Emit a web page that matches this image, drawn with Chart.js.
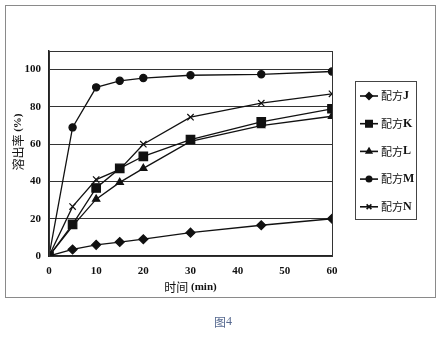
<!DOCTYPE html>
<html>
<head>
<meta charset="utf-8">
<script src="https://cdn.jsdelivr.net/npm/chart.js@4/dist/chart.umd.min.js"></script>
<style>
  html, body { margin: 0; padding: 0; background: #fff; }
  #wrap { width: 438px; height: 344px; }
</style>
</head>
<body>
<div id="wrap"><canvas id="dissolution" width="438" height="344"></canvas></div>
<script>
// sampling times (min)
var times = [0, 5, 10, 15, 20, 30, 45, 60];

// release (%) per formula
var seriesJ = [0, 3.5, 6, 7.5, 9, 12.5, 16.5, 20];
var seriesK = [0, 17, 36.5, 47, 53.5, 62.5, 72, 79];
var seriesL = [0, 16, 30.5, 39.5, 47, 61.5, 70, 75];
var seriesM = [0, 69, 90.5, 94, 95.5, 97, 97.5, 99];
var seriesN = [0, 26.5, 41, 46.5, 60, 74.5, 82, 87];

var labels = ['配方J', '配方K', '配方L', '配方M', '配方N'];
var yTicks = [0, 20, 40, 60, 80, 100];
var xTicks = [0, 10, 20, 30, 40, 50, 60];

var serif = "'Liberation Serif', serif";
var cjk = "'Noto Sans CJK SC', sans-serif";

function points(vals) {
    return vals.map(function (v, i) { return { x: times[i], y: v }; });
}

function line(label, vals, style, radius) {
    return {
        label: label,
        data: points(vals),
        borderColor: '#111',
        backgroundColor: '#111',
        borderWidth: 1.3,
        pointStyle: style,
        pointRadius: radius,
        pointBorderColor: '#111',
        pointBackgroundColor: '#111',
        pointBorderWidth: 1.2,
        tension: 0
    };
}

// draws a run of [text, font] pieces starting at x, baseline middle
function drawRun(ctx, pieces, x, y) {
    pieces.forEach(function (p) {
        ctx.font = p[1];
        ctx.fillText(p[0], x, y);
        x += ctx.measureText(p[0]).width;
    });
}

function runWidth(ctx, pieces) {
    var w = 0;
    pieces.forEach(function (p) {
        ctx.font = p[1];
        w += ctx.measureText(p[0]).width;
    });
    return w;
}

// frame, plot box, axis titles, legend box and caption
var decorations = {
    id: 'decorations',
    afterDraw: function (chart) {
        var ctx = chart.ctx;
        var a = chart.chartArea;
        ctx.save();

        ctx.strokeStyle = '#8a8a8a';
        ctx.lineWidth = 1;
        ctx.strokeRect(5.5, 5.5, 430, 292);

        ctx.strokeStyle = '#333';
        ctx.strokeRect(a.left + 0.5, a.top + 0.5, a.right - a.left, a.bottom - a.top);

        ctx.fillStyle = '#111';
        ctx.textBaseline = 'middle';
        ctx.textAlign = 'left';

        // x title
        var xt = [['时间 ', '12px ' + cjk], ['(min)', 'bold 11px ' + serif]];
        drawRun(ctx, xt, (a.left + a.right) / 2 - runWidth(ctx, xt) / 2, 287);

        // y title
        var yt = [['溶出率 ', '12px ' + cjk], ['(%)', 'bold 11px ' + serif]];
        ctx.save();
        ctx.translate(18, 142);
        ctx.rotate(-Math.PI / 2);
        drawRun(ctx, yt, -runWidth(ctx, yt) / 2, 0);
        ctx.restore();

        // legend
        ctx.strokeStyle = '#444';
        ctx.lineWidth = 1;
        ctx.strokeRect(355.5, 81.5, 61, 138);
        chart.data.datasets.forEach(function (ds, i) {
            var y = 96 + i * 27.7;
            ctx.strokeStyle = '#111';
            ctx.lineWidth = 1.6;
            ctx.beginPath();
            ctx.moveTo(360, y);
            ctx.lineTo(378, y);
            ctx.stroke();
            ctx.fillStyle = '#111';
            Chart.helpers.drawPoint(ctx, {
                pointStyle: ds.pointStyle,
                radius: ds.pointRadius * 0.75,
                borderWidth: 1.2,
                rotation: 0
            }, 369, y);
            drawRun(ctx, [[ds.label.slice(0, 2), '11px ' + cjk], [ds.label.slice(2), 'bold 12px ' + serif]], 381, y);
        });

        // caption
        ctx.fillStyle = '#56698f';
        drawRun(ctx, [['图', '12px ' + cjk], ['4', '12px ' + serif]], 214, 322);
        ctx.restore();
    }
};

new Chart(document.getElementById('dissolution'), {
    type: 'line',
    data: {
        datasets: [
            line(labels[0], seriesJ, 'rectRot', 4.5),
            line(labels[1], seriesK, 'rect', 6),
            line(labels[2], seriesL, 'triangle', 4.2),
            line(labels[3], seriesM, 'circle', 3.6),
            line(labels[4], seriesN, 'crossRot', 4.5)
        ]
    },
    options: {
        responsive: false,
        animation: false,
        layout: {
            padding: { left: 0, top: 51, right: 106, bottom: 48 }
        },
        plugins: {
            legend: { display: false },
            tooltip: { enabled: false }
        },
        scales: {
            x: {
                type: 'linear',
                min: 0,
                max: 60,
                afterBuildTicks: function (s) { s.ticks = xTicks.map(function (v) { return { value: v }; }); },
                afterFit: function (s) { s.height = 40; },
                grid: { drawOnChartArea: false, drawTicks: false },
                border: { color: '#222', width: 1.5 },
                ticks: {
                    padding: 9,
                    color: '#111',
                    font: { family: serif, size: 11, weight: 'bold' }
                }
            },
            y: {
                min: 0,
                max: 110,
                afterBuildTicks: function (s) { s.ticks = yTicks.map(function (v) { return { value: v }; }); },
                afterFit: function (s) { s.width = 49; },
                grid: { color: '#333', lineWidth: 1, drawTicks: false },
                border: { color: '#222', width: 1.5 },
                ticks: {
                    padding: 8,
                    color: '#111',
                    font: { family: serif, size: 11, weight: 'bold' }
                }
            }
        }
    },
    plugins: [decorations]
});
</script>
</body>
</html>
